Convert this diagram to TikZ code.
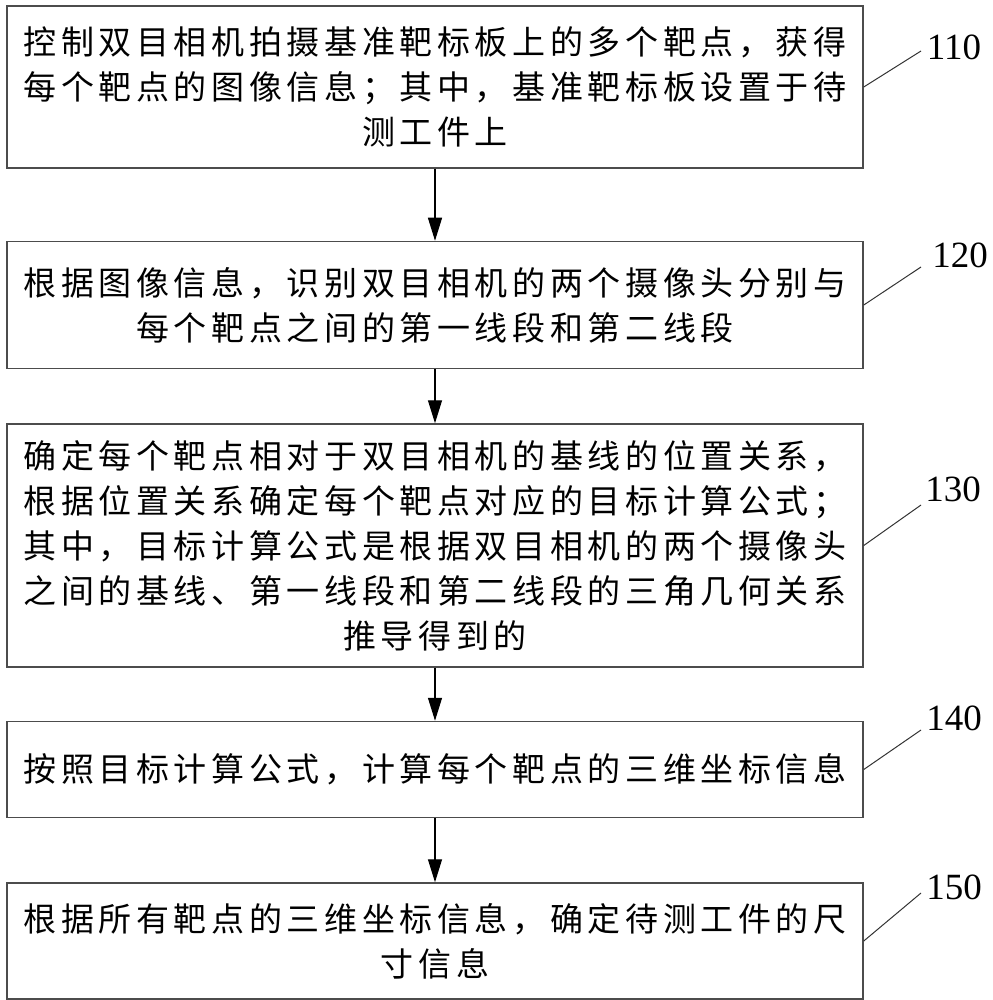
\documentclass[tikz,border=0pt]{standalone}
\usepackage{fontspec}
\setmainfont{Liberation Serif}
\newfontfamily\cjk{Noto Sans CJK SC}[LetterSpace=14]
\usepackage{tikz}
\usetikzlibrary{arrows.meta, positioning}

\tikzset{
    stepbox/.style={draw=black!70, line width=1.5pt, minimum width=856pt, inner sep=0pt,
        align=center, font=\cjk\fontsize{33}{45}\selectfont},
    flow/.style={-{Triangle[width=14pt, length=23pt]}, line width=1.2pt},
    leader/.style={draw=black!80, line width=1pt},
    steplabel/.style={font=\fontsize{37}{40}\selectfont, inner sep=0pt}
}

\begin{document}
\begin{tikzpicture}
        \useasboundingbox (0,0) rectangle (992pt,-1000pt);
        % Steps
        \node[stepbox, minimum height=162pt] (s110) at (435pt,-87pt)
            {控制双目相机拍摄基准靶标板上的多个靶点，获得\\每个靶点的图像信息；其中，基准靶标板设置于待\\测工件上};
        \node[stepbox, minimum height=127pt, below=72pt of s110] (s120)
            {根据图像信息，识别双目相机的两个摄像头分别与\\每个靶点之间的第一线段和第二线段};
        \node[stepbox, minimum height=243pt, below=54pt of s120] (s130)
            {确定每个靶点相对于双目相机的基线的位置关系，\\根据位置关系确定每个靶点对应的目标计算公式；\\其中，目标计算公式是根据双目相机的两个摄像头\\之间的基线、第一线段和第二线段的三角几何关系\\推导得到的};
        \node[stepbox, minimum height=96pt, below=53pt of s130] (s140)
            {按照目标计算公式，计算每个靶点的三维坐标信息};
        \node[stepbox, minimum height=116pt, below=64pt of s140] (s150)
            {根据所有靶点的三维坐标信息，确定待测工件的尺\\寸信息};
        % Arrows
        \draw[flow] (s110) -- (s120);
        \draw[flow] (s120) -- (s130);
        \draw[flow] (s130) -- (s140);
        \draw[flow] (s140) -- (s150);
        % Step numbers
        \node[steplabel] (l110) at (954pt,-47pt) {110};
        \node[steplabel] (l120) at (960pt,-255pt) {120};
        \node[steplabel] (l130) at (953pt,-489pt) {130};
        \node[steplabel] (l140) at (954pt,-718pt) {140};
        \node[steplabel] (l150) at (954pt,-887pt) {150};
        \coordinate (t110) at (921pt,-51pt);
        \coordinate (t120) at (921pt,-267pt);
        \coordinate (t130) at (921pt,-505pt);
        \coordinate (t140) at (921pt,-730pt);
        \coordinate (t150) at (921pt,-893pt);
        \foreach \i in {110,120,130,140,150} {
            \draw[leader] (s\i.east) -- (t\i);
        }
    \end{tikzpicture}
\end{document}
